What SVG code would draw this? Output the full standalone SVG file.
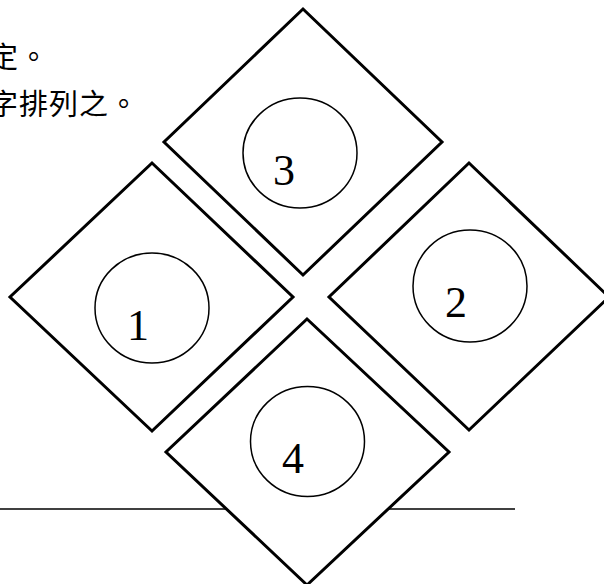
<svg xmlns="http://www.w3.org/2000/svg" width="604" height="584" viewBox="0 0 604 584">
<style>
.d{fill:#fff;stroke:#000;stroke-width:3;stroke-linejoin:miter}
.c{fill:none;stroke:#000;stroke-width:1.5}
.n{font-family:"Liberation Serif","Times New Roman",serif;font-size:44px;fill:#000;text-anchor:middle}
.t{font-family:"Noto Sans CJK TC","Noto Sans CJK SC",sans-serif;font-size:29px;fill:#000;letter-spacing:1px}
</style>
<rect width="604" height="584" fill="#fff"/>
<text class="t" x="-11" y="68">定。</text>
<text class="t" x="-11" y="115">字排列之。</text>
<g id="connectors">
<line x1="0" y1="509" x2="515" y2="509" stroke="#000" stroke-width="1.5"/>
</g>
<g id="node3">
<polygon class="d" points="303,9 442,142 303,275 164,142"/>
<ellipse class="c" cx="300" cy="153" rx="57" ry="55"/>
<text class="n" x="284" y="185">3</text>
</g>
<g id="node1">
<polygon class="d" points="152,163 293,297 152,431 10,297"/>
<ellipse class="c" cx="152" cy="308" rx="57" ry="55"/>
<text class="n" x="138" y="340">1</text>
</g>
<g id="node2">
<polygon class="d" points="469,163 609,297 469,430 329,297"/>
<ellipse class="c" cx="470" cy="286" rx="57" ry="56"/>
<text class="n" x="456" y="317">2</text>
</g>
<g id="node4">
<polygon class="d" points="307,319 449,452 307,585 166,452"/>
<ellipse class="c" cx="307.5" cy="441.5" rx="57" ry="55"/>
<text class="n" x="293" y="473">4</text>
</g>
</svg>
